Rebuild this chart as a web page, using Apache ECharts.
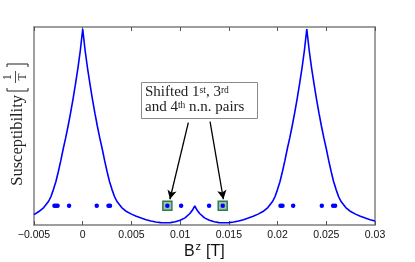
<!DOCTYPE html>
<html><head><meta charset="utf-8">
<script src="https://cdn.jsdelivr.net/npm/echarts@6/dist/echarts.min.js"></script>
<style>html,body{margin:0;padding:0;background:#fff}#c{width:415px;height:262px}</style>
</head><body><div id="c"></div>
<script>
// Susceptibility curve: [B^z (T), relative value]
const susceptibilityCurve = [
  [-0.005,0.052],[-0.0045,0.068],[-0.004,0.088],[-0.0035,0.12],[-0.00325,0.145],[-0.003,0.18],
  [-0.00275,0.22],[-0.0025,0.27],[-0.00225,0.325],[-0.002,0.385],[-0.00175,0.44],[-0.0015,0.50],
  [-0.00125,0.565],[-0.001,0.635],[-0.00075,0.71],[-0.0005,0.79],[-0.00025,0.88],[0,0.99],
  [0.00025,0.88],[0.0005,0.79],[0.00075,0.71],[0.001,0.635],[0.00125,0.565],[0.0015,0.50],
  [0.00175,0.44],[0.002,0.385],[0.00225,0.325],[0.0025,0.27],[0.00275,0.22],[0.003,0.18],
  [0.00325,0.145],[0.0035,0.12],[0.004,0.088],[0.0045,0.068],[0.005,0.055],[0.0055,0.044],
  [0.006,0.035],[0.0065,0.027],[0.007,0.02],[0.0075,0.015],[0.008,0.012],[0.0085,0.011],
  [0.009,0.012],[0.0095,0.016],[0.01,0.024],[0.0105,0.036],[0.011,0.058],[0.01125,0.074],
  [0.0115,0.096],[0.01175,0.074],[0.012,0.058],[0.0125,0.036],[0.013,0.024],[0.0135,0.016],
  [0.014,0.012],[0.0145,0.011],[0.015,0.012],[0.0155,0.015],[0.016,0.02],[0.0165,0.027],
  [0.017,0.035],[0.0175,0.044],[0.018,0.055],[0.0185,0.068],[0.019,0.088],[0.0195,0.12],
  [0.01975,0.145],[0.02,0.18],[0.02025,0.22],[0.0205,0.27],[0.02075,0.325],[0.021,0.385],
  [0.02125,0.44],[0.0215,0.50],[0.02175,0.565],[0.022,0.635],[0.02225,0.71],[0.0225,0.79],
  [0.02275,0.88],[0.023,0.99],[0.02325,0.88],[0.0235,0.79],[0.02375,0.71],[0.024,0.635],
  [0.02425,0.565],[0.0245,0.50],[0.02475,0.44],[0.025,0.385],[0.02525,0.325],[0.0255,0.27],
  [0.02575,0.22],[0.026,0.18],[0.02625,0.145],[0.0265,0.12],[0.027,0.088],[0.0275,0.068],
  [0.028,0.055],[0.0285,0.044],[0.029,0.035],[0.0295,0.027],[0.03,0.02]
];
// Pair positions (blue dots)
const pairB = [-0.0029,-0.00274,-0.00258,-0.0014,0.00144,0.00265,0.0028,0.00869,0.0101,0.01297,0.01437,
  0.0203,0.0205,0.0216,0.02454,0.0257,0.0259];
const pairLevel = 0.097;
// Shifted pairs (green boxes)
const shiftedB = [0.00869,0.01437];
// Arrows: [start, end] in data units
const arrows = [
  [[0.01084,0.517],[0.00895,0.13]],
  [[0.01307,0.522],[0.01444,0.13]]
];
const xTicks = {min:-0.005, max:0.03, interval:0.005};

const chart = echarts.init(document.getElementById('c'), null, {renderer:'canvas'});
const spine = {show:true, onZero:false, lineStyle:{color:'#7f7f7f', width:1.5}};
const fmt = v => {
  if (Math.abs(v) < 1e-12) return '0';
  let s = (+v.toFixed(4)).toString();
  return s.replace('-', '\u2212');
};
chart.setOption({
  animation:false,
  grid:{left:34, top:27, right:40, bottom:37, outerBoundsMode:'none', containLabel:false},
  xAxis:[
    {type:'value', min:xTicks.min, max:xTicks.max, interval:xTicks.interval, position:'bottom',
     axisLine:spine, axisTick:{show:true, inside:true, length:4, lineStyle:{color:'#555', width:1}},
     axisLabel:{formatter:fmt, color:'#111', fontFamily:'Liberation Sans', fontSize:10.5, margin:5},
     splitLine:{show:false}},
    {type:'value', min:xTicks.min, max:xTicks.max, interval:xTicks.interval, position:'top',
     axisLine:spine, axisTick:{show:true, inside:true, length:4, lineStyle:{color:'#555', width:1}},
     axisLabel:{show:false}, splitLine:{show:false}}
  ],
  yAxis:[
    {type:'value', min:0, max:1, position:'left', axisLine:spine, axisTick:{show:false},
     axisLabel:{show:false}, splitLine:{show:false}},
    {type:'value', min:0, max:1, position:'right', axisLine:spine, axisTick:{show:false},
     axisLabel:{show:false}, splitLine:{show:false}}
  ],
  series:[
    {type:'line', data:susceptibilityCurve, showSymbol:false, symbol:'none', smooth:false,
     lineStyle:{color:'#0000ff', width:1.6}, z:3, silent:true},
    {type:'scatter', data:shiftedB.map(b=>[b,pairLevel]), symbol:'rect', symbolSize:9,
     itemStyle:{color:'#9fc4a9', borderColor:'#2e7d4e', borderWidth:1.5, opacity:1}, z:4, silent:true},
    {type:'scatter', data:pairB.map(b=>[b,pairLevel]), symbol:'circle', symbolSize:4.5,
     itemStyle:{color:'#0000ff', opacity:1}, z:5, silent:true,
     markLine:{silent:true, symbol:['none','arrow'], symbolSize:[7,9], animation:false,
       label:{show:false}, lineStyle:{color:'#000', width:1.3, type:'solid'},
       emphasis:{disabled:true},
       data:arrows.map(a=>[{coord:a[0]},{coord:a[1]}])}}
  ],
  graphic:[
    {type:'rect', shape:{x:141.5, y:82.5, width:116, height:36}, style:{fill:'#fff', stroke:'#8a8a8a', lineWidth:1}, z:10},
    {type:'text', x:145, y:85, z:11, style:{
      text:'Shifted 1{s|st}, 3{s|rd}\nand 4{s|th} n.n. pairs',
      fontFamily:'Liberation Serif', fontSize:15, lineHeight:15, fill:'#222',
      rich:{s:{fontSize:9.5, verticalAlign:'top', fontFamily:'Liberation Serif', fill:'#222', lineHeight:15}}}},
    // x-axis title B^z [T]
    {type:'text', x:184, y:252, z:11, style:{text:'B', fontFamily:'Liberation Sans', fontSize:16, fill:'#111', verticalAlign:'middle'}},
    {type:'text', x:195.5, y:246.5, z:11, style:{text:'z', fontFamily:'Liberation Sans', fontSize:11, fill:'#111', verticalAlign:'middle'}},
    {type:'text', x:206, y:252, z:11, style:{text:'[T]', fontFamily:'Liberation Sans', fontSize:16, fill:'#111', verticalAlign:'middle'}},
    // y-axis title
    {type:'group', x:18, y:127, rotation:Math.PI/2, z:11, children:[
      {type:'text', x:32, y:0, style:{text:'Susceptibility', fontFamily:'Liberation Serif', fontSize:16.5,
        fill:'#222', align:'right', verticalAlign:'middle'}},
      {type:'polyline', shape:{points:[[39,-11],[36,-11],[36,10],[39,10]]}, style:{stroke:'#222', lineWidth:1, fill:null}},
      {type:'text', x:50, y:-4, style:{text:'1', fontFamily:'Liberation Serif', fontSize:11.5, fill:'#222', align:'center', verticalAlign:'bottom'}},
      {type:'line', shape:{x1:44, y1:-2.5, x2:56, y2:-2.5}, style:{stroke:'#222', lineWidth:0.8}},
      {type:'text', x:50, y:-1, style:{text:'T', fontFamily:'Liberation Serif', fontSize:11.5, fill:'#222', align:'center', verticalAlign:'top'}},
      {type:'polyline', shape:{points:[[60,-11],[63,-11],[63,10],[60,10]]}, style:{stroke:'#222', lineWidth:1, fill:null}}
    ]}
  ]
});
</script></body></html>
